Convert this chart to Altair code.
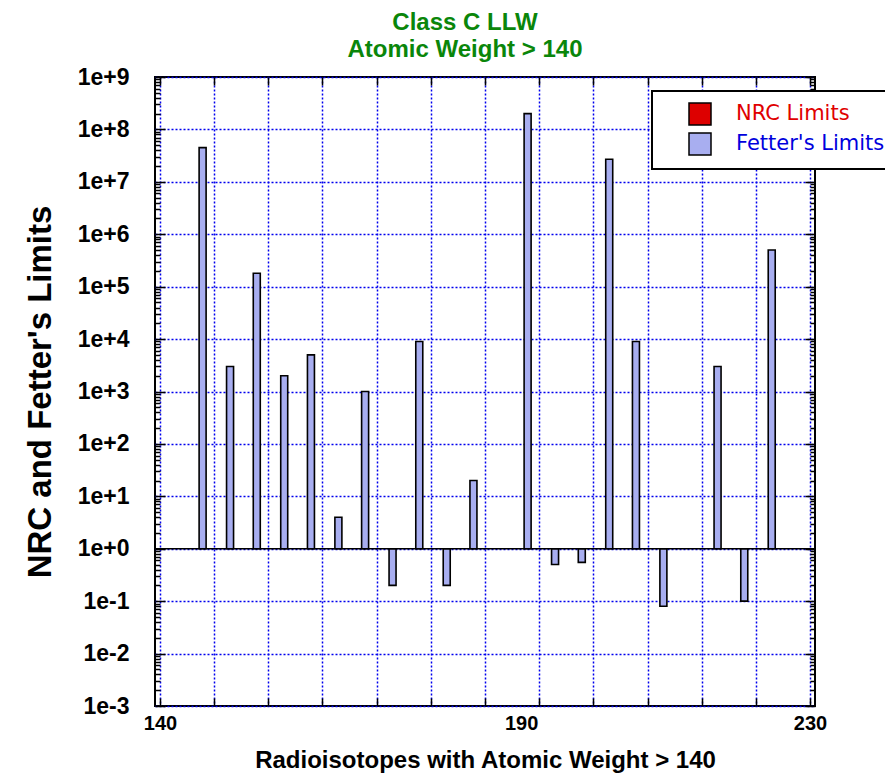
import altair as alt
import pandas as pd

# ---- data ----
isotope_x = [145.9, 149.7, 153.4, 157.2, 160.9, 164.7, 168.4, 172.2, 175.9, 179.7, 183.4,
             190.9, 194.7, 198.4, 202.2, 205.9, 209.7, 217.2, 220.9, 224.7]
fetter_limits = [4.5e7, 3e3, 1.8e5, 2e3, 5e3, 4, 1e3, 0.2, 9e3, 0.2, 20,
                 2e8, 0.5, 0.55, 2.7e7, 9e3, 0.08, 3e3, 0.1, 5e5]
series_names = ["NRC Limits", "Fetter's Limits"]
series_colors = ["#dd0000", "#a8aef0"]
x_label_values = [140, 190, 230]
x_tick_values = [140 + 7.5 * i for i in range(13)]
y_tick_values = [m * 10.0 ** e for e in range(-3, 9) for m in range(1, 10)] + [1e9]
baseline = [1.0]

df = pd.DataFrame({"x": isotope_x, "v": fetter_limits,
                   "series": ["Fetter's Limits"] * len(isotope_x)})
base_df = pd.DataFrame({"b": baseline})

FONT = "Liberation Sans"
GRID = "#0000ee"
MAJOR = "abs(log(datum.value)/LN10 - round(log(datum.value)/LN10)) < 0.001"
xscale = alt.Scale(domain=[140, 230], nice=False, zero=False)
yscale = alt.Scale(type="log", domain=[1e-3, 1e9], nice=False)

label_test = " || ".join(f"datum.value == {v}" for v in x_label_values)

x_axis = alt.Axis(
    values=x_tick_values + [190], format="d",
    labelExpr=f"({label_test}) ? datum.label : ''",
    labelFlush=False, labelOverlap=False,
    grid=True, gridColor=GRID, gridDash=[2, 2], gridWidth=1.5,
    gridOpacity={"condition": {"test": "datum.value == 190", "value": 0}, "value": 1},
    tickOpacity={"condition": {"test": "datum.value == 190", "value": 0}, "value": 1},
    tickSize=alt.ExprRef("-8"), tickColor="black", tickWidth=1.5,
    domain=False,
    labelFont=FONT, labelFontSize=20, labelFontWeight="bold", labelColor="black",
    labelPadding=15,
    title="Radioisotopes with Atomic Weight > 140",
    titleFont=FONT, titleFontSize=24, titleFontWeight="bold", titleColor="black",
    titlePadding=15,
)
y_axis = alt.Axis(
    values=y_tick_values,
    labelExpr=f"({MAJOR}) ? format(datum.value, '.0e') : ''",
    labelOverlap=False,
    grid=True, gridColor=GRID, gridDash=[2, 2], gridWidth=1.5,
    gridOpacity={"condition": {"test": MAJOR, "value": 1}, "value": 0},
    tickSize=alt.ExprRef(f"({MAJOR}) ? -10 : -5"), tickColor="black", tickWidth=1.5,
    domain=False,
    labelFont=FONT, labelFontSize=23, labelFontWeight="bold", labelColor="black",
    labelPadding=36,
    title="NRC and Fetter's Limits",
    titleFont=FONT, titleFontSize=33, titleFontWeight="bold", titleColor="black",
    titlePadding=20,
)
top_axis = alt.Axis(orient="top", values=x_tick_values, labels=False, grid=False,
                    domain=False, tickSize=alt.ExprRef("-8"), tickColor="black",
                    tickWidth=1.5, title=None)
right_axis = alt.Axis(orient="right", values=y_tick_values, labels=False, grid=False,
                      domain=False, tickSize=alt.ExprRef(f"({MAJOR}) ? -10 : -5"),
                      tickColor="black", tickWidth=1.5, title=None)

legend = alt.Legend(
    title=None, orient="none", legendX=497, legendY=14, direction="vertical",
    values=series_names,
    fillColor="white", strokeColor="black", padding=11,
    symbolType="square", symbolSize=484, symbolStrokeColor="black",
    symbolStrokeWidth=1.5, symbolOffset=25,
    labelOffset=24, labelFont="DejaVu Sans", labelFontSize=21, labelLimit=400,
    labelColor=alt.ExprRef("datum.value == 'NRC Limits' ? '#e00000' : '#0000dd'"),
    rowPadding=2,
)

bars = alt.Chart(df).mark_bar(size=7, stroke="black", strokeWidth=1.6).encode(
    x=alt.X("x:Q", scale=xscale, axis=x_axis),
    y=alt.Y("v:Q", scale=yscale, axis=y_axis),
    y2=alt.datum(1),
    color=alt.Color("series:N", scale=alt.Scale(domain=series_names, range=series_colors),
                    legend=legend),
)

base_rule = alt.Chart(base_df).mark_rule(color="black", strokeWidth=1.5).encode(
    y=alt.Y("b:Q", scale=yscale, axis=None)
)

mirror = alt.Chart(df).mark_point(opacity=0).encode(
    x=alt.X("x:Q", scale=xscale, axis=top_axis),
    y=alt.Y("v:Q", scale=yscale, axis=right_axis),
)

chart = alt.layer(bars, base_rule, mirror).resolve_axis(
    x="independent", y="independent"
).properties(
    width=660, height=629,
    autosize=alt.AutoSizeParams(type="none"),
    padding={"left": 147, "top": 69, "right": 70, "bottom": 67},
    title=alt.TitleParams(
        ["Class C LLW", "Atomic Weight > 140"], font=FONT, fontSize=24,
        fontWeight="bold", color="#0a860a", anchor="middle", dx=-20, offset=4,
        lineHeight=27,
    ),
).configure_view(stroke="black", strokeWidth=2).configure_legend(strokeWidth=2)

chart.save("out.html", embed_options={"renderer": "svg", "actions": False})
